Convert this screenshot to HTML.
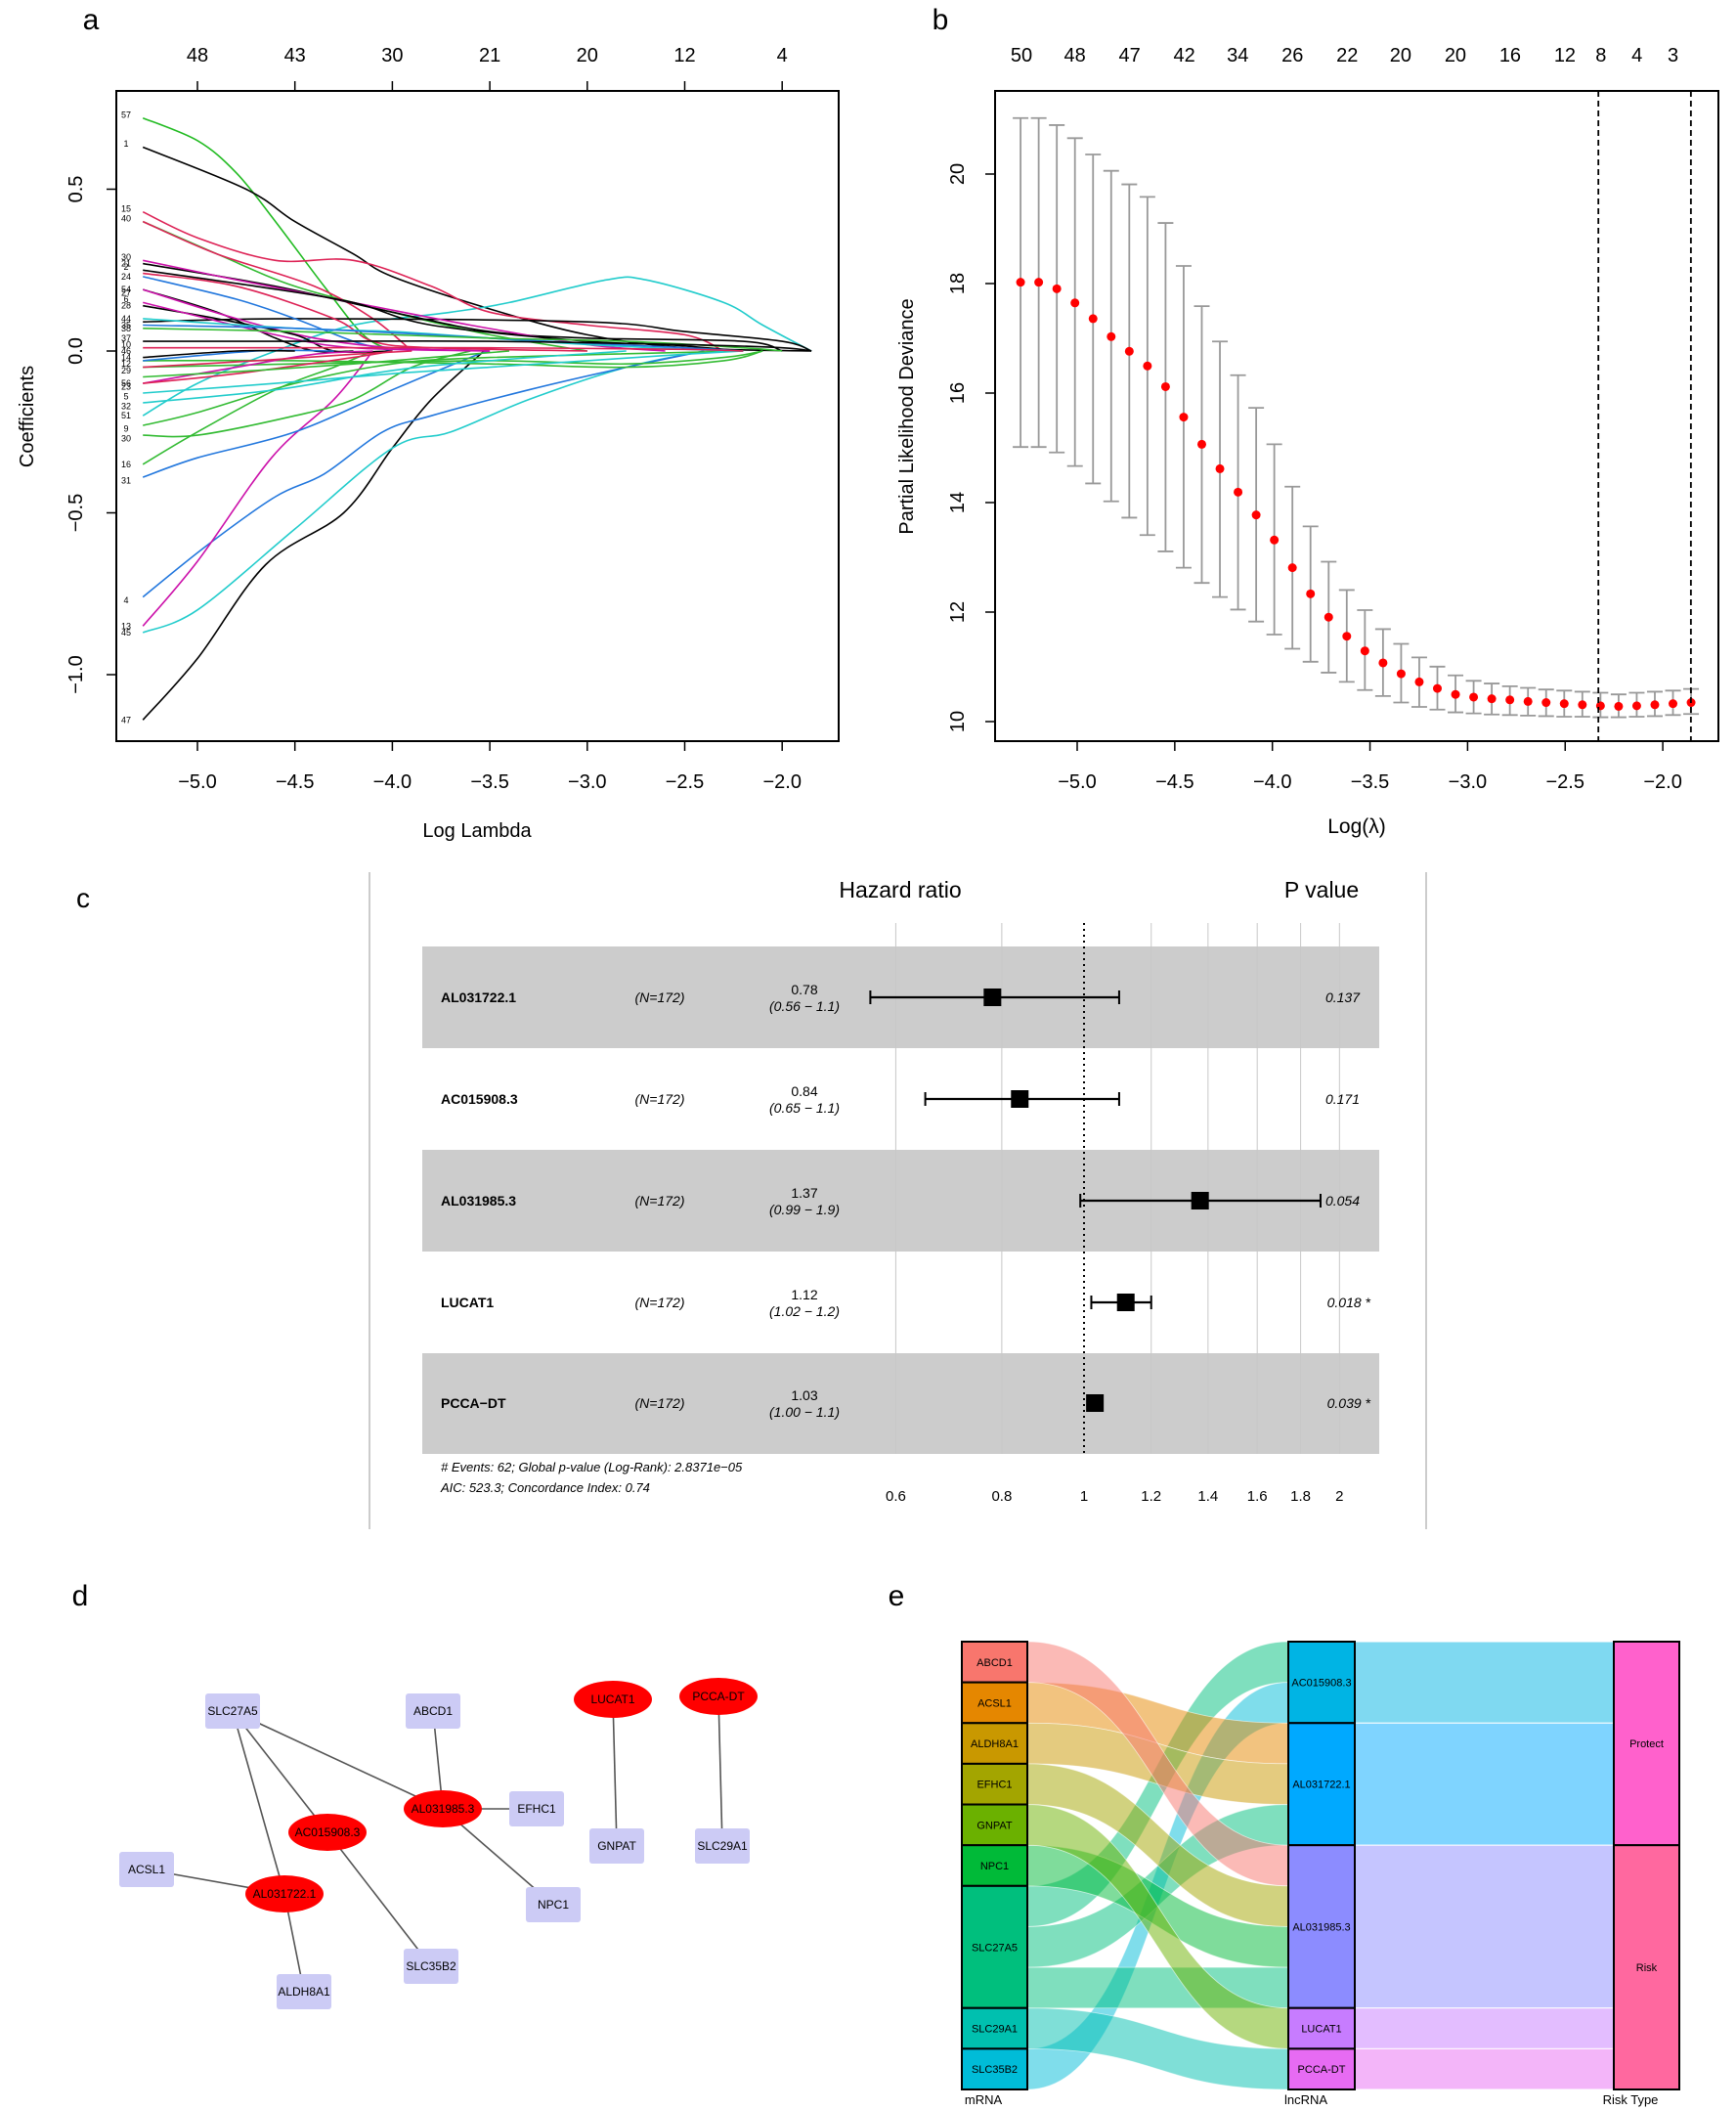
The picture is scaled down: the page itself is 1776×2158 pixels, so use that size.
<!DOCTYPE html>
<html><head><meta charset="utf-8"><style>
html,body{margin:0;padding:0;background:#fff;}
svg{display:block;font-family:"Liberation Sans",sans-serif;}
</style></head><body>
<svg id="s" width="1776" height="2158" viewBox="0 0 1776 2158" xmlns="http://www.w3.org/2000/svg"></svg>
<script>
(function(){
const S=document.getElementById('s');let h='';
function T(x,y,t,o){o=o||{};h+=`<text x="${x}" y="${y}" font-size="${o.fs||20}" text-anchor="${o.a||'middle'}" fill="${o.c||'#000'}" ${o.r!==undefined?`transform="rotate(${o.r} ${x} ${y})"`:''} ${o.w?'font-weight="bold"':''} ${o.i?'font-style="italic"':''}>${t}</text>`;}
function L(x1,y1,x2,y2,c,w,d){h+=`<line x1="${x1}" y1="${y1}" x2="${x2}" y2="${y2}" stroke="${c||'#000'}" stroke-width="${w||1.5}" ${d?`stroke-dasharray="${d}"`:''}/>`;}
// ---------- Panel a ----------
T(93,30,'a',{fs:30,a:'middle'});
const ax=l=>202+(l+5)*199.4, ay=v=>359-v*331;
h+=`<rect x="119" y="93" width="739" height="665" fill="none" stroke="#000" stroke-width="2"/>`;
[-5,-4.5,-4,-3.5,-3,-2.5,-2].forEach(l=>{let x=ax(l);L(x,758,x,768);T(x,806,(l.toFixed(1)).replace('-','−'),{fs:20});L(x,83,x,93);});
['48','43','30','21','20','12','4'].forEach((t,i)=>T(ax(-5+i*0.5),63,t,{fs:20}));
[[0.5,'0.5'],[0,'0.0'],[-0.5,'−0.5'],[-1,'−1.0']].forEach(([v,t])=>{let y=ay(v);L(109,y,119,y);T(84,y,t,{fs:20,r:-90});});
T(488,856,'Log Lambda',{fs:20});T(34,426,'Coefficients',{fs:20,r:-90});
function path(pts,c){
 const P=pts.map(p=>[ax(p[0]),ay(p[1])]);
 let d='M'+P[0][0].toFixed(1)+' '+P[0][1].toFixed(1);
 for(let i=0;i<P.length-1;i++){const p0=P[i-1]||P[i],p1=P[i],p2=P[i+1],p3=P[i+2]||P[i+1];
  const c1=[p1[0]+(p2[0]-p0[0])/6,p1[1]+(p2[1]-p0[1])/6],c2=[p2[0]-(p3[0]-p1[0])/6,p2[1]-(p3[1]-p1[1])/6];
  d+=`C${c1[0].toFixed(1)} ${c1[1].toFixed(1)} ${c2[0].toFixed(1)} ${c2[1].toFixed(1)} ${p2[0].toFixed(1)} ${p2[1].toFixed(1)}`;}
 h+=`<path d="${d}" fill="none" stroke="${c}" stroke-width="1.6"/>`;}
const X0=-5.28;
const lines=[
['#22bb22',[[X0,0.72],[-5,0.65],[-4.8,0.55],[-4.6,0.4],[-4.35,0.2],[-4.15,0.05],[-4,0]]],
['#000',[[X0,0.63],[-4.75,0.5],[-4.5,0.4],[-4.2,0.3],[-4,0.23],[-3.5,0.13],[-3,0.05],[-2.5,0.01],[-1.85,0]]],
['#22cccc',[[X0,-0.2],[-5,-0.1],[-4.6,0],[-4.2,0.08],[-3.7,0.12],[-3.4,0.15],[-2.9,0.22],[-2.7,0.22],[-2.3,0.15],[-2.1,0.08],[-1.85,0]]],
['#000',[[X0,-1.14],[-5,-0.95],[-4.65,-0.66],[-4.25,-0.5],[-4,-0.3],[-3.8,-0.15],[-3.53,0]]],
['#22cccc',[[X0,-0.87],[-5,-0.8],[-4.5,-0.55],[-4,-0.3],[-3.7,-0.25],[-3.3,-0.15],[-2.8,-0.05],[-2.4,0]]],
['#2277dd',[[X0,-0.76],[-4.95,-0.6],[-4.6,-0.45],[-4.35,-0.38],[-4.05,-0.25],[-3.8,-0.2],[-3.3,-0.12],[-2.8,-0.05],[-2.4,0]]],
['#cc11aa',[[X0,-0.85],[-5,-0.65],[-4.62,-0.33],[-4.3,-0.15],[-4.1,0]]],
['#2277dd',[[X0,-0.39],[-5,-0.33],[-4.5,-0.25],[-4,-0.12],[-3.6,-0.02],[-3.5,0]]],
['#33bb33',[[X0,-0.35],[-5,-0.25],[-4.6,-0.12],[-4.3,-0.05],[-4.1,0]]],
['#33bb33',[[X0,-0.26],[-5,-0.26],[-4.5,-0.2],[-4.2,-0.15],[-3.9,-0.05],[-3.6,0]]],
['#33bb33',[[X0,-0.23],[-5,-0.19],[-4.5,-0.1],[-4,-0.04],[-3.5,-0.02],[-2.2,0]]],
['#dd2255',[[X0,0.43],[-5,0.35],[-4.6,0.28],[-4.2,0.28],[-3.8,0.2],[-3.5,0.12],[-3,0.08],[-2.5,0.05],[-2.3,0]]],
['#33bb33',[[X0,0.40],[-4.9,0.3],[-4.5,0.2],[-4,0.12],[-3.5,0.05],[-3,0]]],
['#dd2255',[[X0,0.40],[-4.9,0.3],[-4.4,0.2],[-4.1,0.1],[-3.9,0]]],
['#000',[[X0,0.09],[-4.5,0.1],[-3,0.09],[-2.5,0.06],[-2,0.03],[-1.85,0]]],
['#000',[[X0,0.27],[-4.6,0.2],[-4,0.12],[-3.5,0.06],[-3,0.04],[-2.2,0.03],[-2,0]]],
['#cc11aa',[[X0,0.28],[-4.8,0.22],[-4.2,0.15],[-3.6,0.08],[-3,0.02],[-2.6,0]]],
['#2277dd',[[X0,0.23],[-4.8,0.16],[-4.5,0.1],[-4.2,0.03],[-4,0]]],
['#000',[[X0,0.25],[-4.7,0.2],[-4.2,0.15],[-3.8,0.08],[-3,0.03],[-2.6,0.02],[-2.2,0]]],
['#dd2255',[[X0,0.24],[-4.8,0.2],[-4.3,0.1],[-4.1,0.03],[-3.8,0.01],[-3,0]]],
['#000',[[X0,0.19],[-4.9,0.12],[-4.6,0.04],[-4.4,0],[-4.2,0]]],
['#cc11aa',[[X0,0.19],[-4.8,0.1],[-4.4,0.04],[-4,0.01],[-3.5,0]]],
['#000',[[X0,0.14],[-4.9,0.1],[-4.5,0.05],[-4.3,0],[-4,0]]],
['#cc11aa',[[X0,0.15],[-4.6,0.05],[-4.2,0.01],[-3.5,0]]],
['#22cccc',[[X0,0.1],[-4.5,0.07],[-4,0.06],[-3.5,0.04],[-3,0.02],[-2.3,0]]],
['#2277dd',[[X0,0.08],[-4.5,0.07],[-3.8,0.05],[-3.2,0.03],[-2.5,0.01],[-2.2,0]]],
['#33bb33',[[X0,0.07],[-4.5,0.06],[-3.5,0.04],[-2.8,0.03],[-2.2,0.01],[-2.0,0]]],
['#000',[[X0,0.03],[-4.5,0.03],[-3.5,0.03],[-2.5,0.02],[-2,0.01],[-1.85,0]]],
['#33bb33',[[X0,-0.03],[-4.5,-0.03],[-3.5,-0.04],[-2.8,-0.05],[-2.3,-0.03],[-2.1,0]]],
['#33bb33',[[X0,-0.05],[-4.5,-0.04],[-3.5,-0.03],[-2.8,-0.04],[-2.3,-0.02],[-2.1,0]]],
['#22cccc',[[X0,-0.13],[-4.6,-0.1],[-4,-0.07],[-3.5,-0.05],[-3,-0.03],[-2.5,-0.01],[-2.2,0]]],
['#22cccc',[[X0,-0.16],[-4.6,-0.12],[-4,-0.06],[-3.5,-0.03],[-2.8,0]]],
['#cc11aa',[[X0,-0.1],[-4.8,-0.05],[-4.4,-0.01],[-4.1,0]]],
['#dd2255',[[X0,-0.1],[-4.8,-0.07],[-4.2,-0.02],[-4,0]]],
['#dd2255',[[X0,-0.05],[-4.7,-0.03],[-4.2,-0.01],[-3.9,0]]],
['#2277dd',[[X0,-0.03],[-4.7,0],[-4.3,0]]],
['#dd2255',[[X0,0.01],[-4.5,0.01],[-3.5,0.01],[-2.5,0.005],[-2.2,0]]],
['#000',[[X0,-0.02],[-4.8,0],[-4.5,0]]],
['#33bb33',[[X0,-0.08],[-4.7,-0.06],[-4.2,-0.04],[-3.8,-0.02],[-3.4,0]]],
];
lines.forEach(([c,p])=>path(p,c));
[['57',0.73],['1',0.64],['15',0.44],['40',0.41],['30',0.29],['21',0.27],['2',0.26],['24',0.23],['54',0.19],['27',0.18],['6',0.16],['28',0.14],['44',0.10],['35',0.08],['38',0.07],['37',0.04],['10',0.02],['46',0],['14',-0.02],['12',-0.04],['29',-0.06],['56',-0.1],['23',-0.11],['5',-0.14],['32',-0.17],['51',-0.2],['9',-0.24],['30',-0.27],['16',-0.35],['31',-0.4],['4',-0.77],['13',-0.85],['45',-0.87],['47',-1.14]].forEach(([t,v])=>T(129,ay(v)+3,t,{fs:9,a:'middle'}));
// ---------- Panel b ----------
T(962,30,'b',{fs:30});
const bx=l=>1102+(l+5)*199.7, by=v=>738-(v-10)*56;
h+=`<rect x="1018" y="93" width="740" height="665" fill="none" stroke="#000" stroke-width="2"/>`;
[-5,-4.5,-4,-3.5,-3,-2.5,-2].forEach(l=>{let x=bx(l);L(x,758,x,768);T(x,806,(l.toFixed(1)).replace('-','−'),{fs:20});});
[10,12,14,16,18,20].forEach(v=>{let y=by(v);L(1008,y,1018,y);T(986,y,String(v),{fs:20,r:-90});});
T(934,426,'Partial Likelihood Deviance',{fs:20,r:-90});T(1388,852,'Log(λ)',{fs:21});
[['50',765],['48',805],['47',846],['42',887],['34',927],['26',968],['22',1009],['20',1049],['20',1090],['16',1131],['12',1172],['8',1199],['4',1226],['3',1253]].forEach(([t,x])=>T(x*1.366,63,t,{fs:20}));
const zy=z=>20-(z-318)/100.7;
const P=[517,517,529,555,584,617,644,671,709,765,815,860,903,945,991,1042,1090,1133,1168,1195,1217,1237,1252,1264,1275,1280,1283,1285,1288,1290,1292,1294,1296,1297,1296,1294,1292,1290];
const U=[215,215,228,252,282,312,337,360,408,487,561,626,688,748,815,893,966,1031,1083,1120,1155,1182,1207,1224,1240,1250,1255,1260,1263,1266,1268,1270,1272,1275,1272,1270,1268,1265];
const D=[820,820,830,855,887,920,950,982,1012,1042,1070,1096,1119,1141,1165,1191,1215,1235,1252,1267,1278,1290,1298,1303,1308,1310,1312,1313,1314,1315,1316,1316,1317,1317,1316,1315,1313,1311];
const n=P.length;
for(let i=0;i<n;i++){const l=-5.29+i*(3.435/(n-1));const x=bx(l);const yu=by(zy(U[i])),yd=by(zy(D[i]));
 L(x,yu,x,yd,'#999',1.8);L(x-8,yu,x+8,yu,'#999',1.8);L(x-8,yd,x+8,yd,'#999',1.8);}
for(let i=0;i<n;i++){const l=-5.29+i*(3.435/(n-1));h+=`<circle cx="${bx(l)}" cy="${by(zy(P[i]))}" r="4.5" fill="#f00"/>`;}
L(bx(-2.33),93,bx(-2.33),758,'#000',1.8,'6,4');L(bx(-1.856),93,bx(-1.856),758,'#000',1.8,'6,4');
// ---------- Panel c ----------
const dy=8;
T(85,928,'c',{fs:28});
L(378,892,378,1564,'#bbb',1.5);L(1459,892,1459,1564,'#bbb',1.5);
[[960,1064],[1168,1272],[1376,1479]].forEach(([a,b])=>h+=`<rect x="432" y="${a+dy}" width="979" height="${b-a}" fill="#cccccc"/>`);
const cx=v=>1109+377*Math.log(v);
[0.6,0.8,1.2,1.4,1.6,1.8,2].forEach(v=>L(cx(v),936+dy,cx(v),1479+dy,'#c8c8c8',1));
[0.6,0.8,1,1.2,1.4,1.6,1.8,2].forEach(v=>T(cx(v),1527+dy,String(v),{fs:15}));
L(cx(1),936+dy,cx(1),1479+dy,'#000',2,'2,4');
T(921,918,'Hazard ratio',{fs:23});T(1352,918,'P value',{fs:23});
const rows=[['AL031722.1','0.78','(0.56 − 1.1)',0.78,0.56,1.1,'0.137',1012],['AC015908.3','0.84','(0.65 − 1.1)',0.84,0.65,1.1,'0.171',1116],['AL031985.3','1.37','(0.99 − 1.9)',1.37,0.99,1.9,'0.054',1220],['LUCAT1','1.12','(1.02 − 1.2)',1.12,1.02,1.2,'0.018 *',1324],['PCCA−DT','1.03','(1.00 − 1.1)',1.03,1.0,1.06,'0.039 *',1427]];
rows.forEach(([nm,hr,ci,v,lo,hi,p,y0])=>{const y=y0+dy;T(451,y+5,nm,{fs:14,a:'start',w:1});T(675,y+5,'(N=172)',{fs:14,i:1});T(823,y-3,hr,{fs:14});T(823,y+14,ci,{fs:14,i:1});
 T(p.length>5?1402:1391,y+5,p,{fs:14,a:'end',i:1});
 if(nm!=='PCCA−DT'){L(cx(lo),y,cx(hi),y,'#000',2.2);L(cx(lo),y-7,cx(lo),y+7,'#000',2);L(cx(hi),y-7,cx(hi),y+7,'#000',2);}
 h+=`<rect x="${cx(v)-9}" y="${y-9}" width="18" height="18" fill="#000"/>`;});
T(451,1497+dy,'# Events: 62; Global p-value (Log-Rank): 2.8371e−05',{fs:13,a:'start',i:1});
T(451,1518+dy,'AIC: 523.3; Concordance Index: 0.74',{fs:13,a:'start',i:1});
// ---------- Panel d ----------
T(82,1642,'d',{fs:30});
const N={SLC27A5:[238,1750,'r'],ABCD1:[443,1750,'r'],LUCAT1:[627,1738,'e'],'PCCA-DT':[735,1735,'e'],'AL031985.3':[453,1850,'e'],EFHC1:[549,1850,'r'],'AC015908.3':[335,1874,'e'],GNPAT:[631,1888,'r'],SLC29A1:[739,1888,'r'],ACSL1:[150,1912,'r'],'AL031722.1':[291,1937,'e'],NPC1:[566,1948,'r'],SLC35B2:[441,2011,'r'],ALDH8A1:[311,2037,'r']};
[['SLC27A5','AL031985.3'],['SLC27A5','AC015908.3'],['SLC27A5','AL031722.1'],['ABCD1','AL031985.3'],['EFHC1','AL031985.3'],['NPC1','AL031985.3'],['AC015908.3','SLC35B2'],['ACSL1','AL031722.1'],['ALDH8A1','AL031722.1'],['LUCAT1','GNPAT'],['PCCA-DT','SLC29A1']].forEach(([a,b])=>L(N[a][0],N[a][1],N[b][0],N[b][1],'#555',1.6));
for(const k in N){const nx=N[k][0],ny=N[k][1],nt=N[k][2];if(nt==='r')h+=`<rect x="${nx-28}" y="${ny-18}" width="56" height="36" rx="3" fill="#cccbf5"/>`;else h+=`<ellipse cx="${nx}" cy="${ny}" rx="40" ry="19" fill="#f00"/>`;T(nx,ny+4,k,{fs:12});}
// ---------- Panel e ----------
T(917,1642,'e',{fs:30});
const u=(2137-1679)/11, eTop=1679;
const m=[['ABCD1','#F8766D',1],['ACSL1','#E58700',1],['ALDH8A1','#C99800',1],['EFHC1','#A3A500',1],['GNPAT','#6BB100',1],['NPC1','#00BA38',1],['SLC27A5','#00BF7D',3],['SLC29A1','#00C0AF',1],['SLC35B2','#00BCD8',1]];
const lc=[['AC015908.3','#00B4E4',2],['AL031722.1','#00A9FF',3],['AL031985.3','#8C8CFF',4],['LUCAT1','#C77CFF',1],['PCCA-DT','#E76BF3',1]];
const mx0=984,mx1=1051,lx0=1318,lx1=1386,rx0=1651,rx1=1718;
const mStart={};let acc=0;m.forEach(([k,c,s])=>{mStart[k]=acc;acc+=s;});
const lStart={};acc=0;lc.forEach(([k,c,s])=>{lStart[k]=acc;acc+=s;});
const flows=[['SLC27A5',0,'AC015908.3',0],['SLC35B2',0,'AC015908.3',1],['ACSL1',0,'AL031722.1',0],['ALDH8A1',0,'AL031722.1',1],['SLC27A5',1,'AL031722.1',2],['ABCD1',0,'AL031985.3',0],['EFHC1',0,'AL031985.3',1],['NPC1',0,'AL031985.3',2],['SLC27A5',2,'AL031985.3',3],['GNPAT',0,'LUCAT1',0],['SLC29A1',0,'PCCA-DT',0]];
const col={};m.forEach(([k,c])=>col[k]=c);lc.forEach(([k,c])=>col[k]=c);
function band(x0,y0,x1,y1,c,op){const xm=(x0+x1)/2;h+=`<path d="M${x0} ${y0} C${xm} ${y0} ${xm} ${y1} ${x1} ${y1} L${x1} ${y1+u} C${xm} ${y1+u} ${xm} ${y0+u} ${x0} ${y0+u}Z" fill="${c}" fill-opacity="${op}" stroke="#fff" stroke-width="0.8" stroke-opacity="0.6"/>`;}
flows.forEach(([a,ai,b,bi])=>band(mx1,eTop+(mStart[a]+ai)*u,lx0,eTop+(lStart[b]+bi)*u,col[a],0.5));
lc.forEach(([k,c,s])=>{const y=eTop+lStart[k]*u;h+=`<rect x="${lx1}" y="${y}" width="${rx0-lx1}" height="${s*u}" fill="${c}" fill-opacity="0.5" stroke="#fff" stroke-width="1"/>`;});
function col3(x0,x1,arr){let a=0;arr.forEach(([k,c,s])=>{const y=eTop+a*u;h+=`<rect x="${x0}" y="${y}" width="${x1-x0}" height="${s*u}" fill="${c}" stroke="#000" stroke-width="2"/>`;T((x0+x1)/2,y+s*u/2+4,k,{fs:11});a+=s;});}
col3(mx0,mx1,m);col3(lx0,lx1,lc);col3(rx0,rx1,[['Protect','#FF61CC',5],['Risk','#FF689F',6]]);
T(1006,2152,'mRNA',{fs:13});T(1336,2152,'lncRNA',{fs:13});T(1668,2152,'Risk Type',{fs:13});
S.innerHTML=h;
})();
</script>
</body></html>
